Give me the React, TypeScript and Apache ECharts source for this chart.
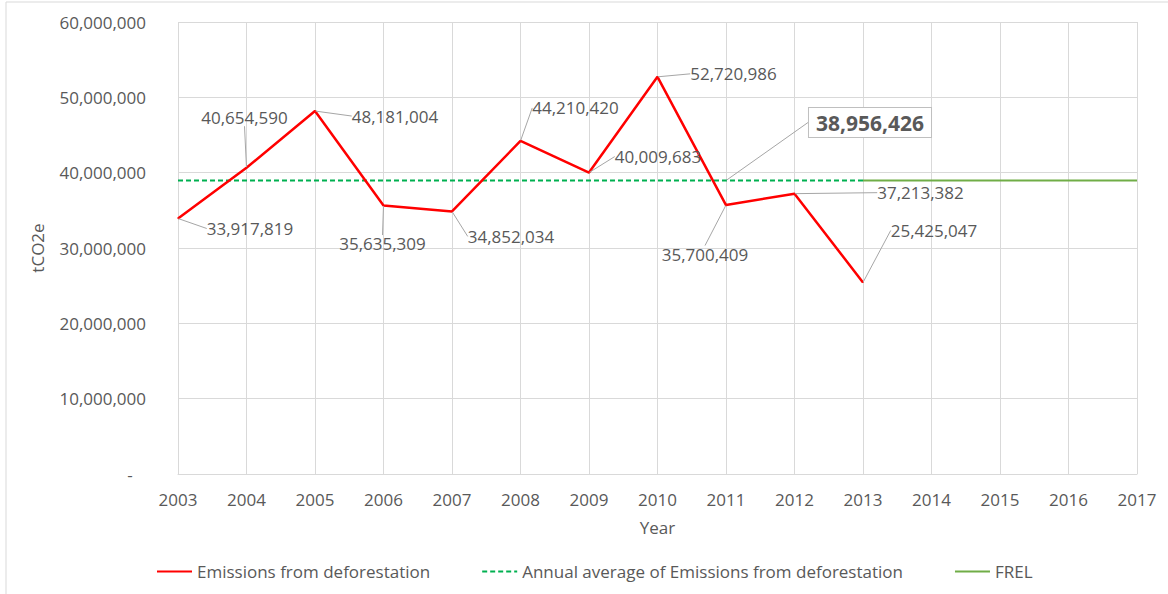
import React, { useEffect, useRef } from "react";
import * as echarts from "echarts";

const years = ["2003","2004","2005","2006","2007","2008","2009","2010","2011","2012","2013","2014","2015","2016","2017"];
const emissions = [33917819, 40654590, 48181004, 35635309, 34852034, 44210420, 40009683, 52720986, 35700409, 37213382, 25425047];
const averageValue = 38956426;
const averageYears = 11; // 2003..2013
const frelStartIndex = 10; // 2013
const emissionLabelOffsets: [number, number][] = [
  [72, 10], [-2, -50], [80, 5], [-1, 38], [59, 25], [55, -33], [69, -16], [76, -3], [-21, 49], [126, -1], [71, -52],
];
const averageLabelIndex = 8;
const averageLabelOffset: [number, number] = [144, -58];

const FONT = "'Open Sans', sans-serif";
const TXT = "#595959";

const fmt = (v: number) => v.toLocaleString("en-US");

export default function App() {
  const ref = useRef<HTMLDivElement>(null);
  useEffect(() => {
    if (!ref.current) return;
    const chart = echarts.init(ref.current, undefined, { renderer: "svg" });

    const redData = emissions.map((v) => ({ value: v, symbol: "circle", symbolSize: 1 }));
    const avgData = years.map((_, i) => {
      if (i >= averageYears) return null;
      if (i === averageLabelIndex)
        return {
          value: averageValue,
          symbol: "circle",
          symbolSize: 1,
          label: {
            show: true,
            formatter: () => fmt(averageValue),
            fontFamily: FONT,
            fontWeight: "bold",
            fontSize: 21,
            color: TXT,
            backgroundColor: "#ffffff",
            borderColor: "#bfbfbf",
            borderWidth: 1,
            padding: [5, 7, 3, 7],
          },
          labelLine: { show: true, lineStyle: { color: "#a6a6a6", width: 1 } },
        };
      return averageValue;
    });
    const frelData = years.map((_, i) => (i >= frelStartIndex ? averageValue : null));

    chart.setOption({
      animation: false,
      backgroundColor: "#ffffff",
      textStyle: { fontFamily: FONT },
      grid: { left: 178, right: 31, top: 22, bottom: 120 },
      graphic: [
        {
          type: "rect",
          shape: { x: 6, y: 2, width: 1400, height: 800 },
          style: { fill: "none", stroke: "#d9d9d9", lineWidth: 1 },
          silent: true,
        },
      ],
      legend: {
        left: 151,
        top: 558,
        itemWidth: 35,
        itemHeight: 14,
        itemGap: 51,
        itemStyle: { opacity: 0 },
        textStyle: { fontFamily: FONT, fontSize: 17, color: TXT },
        data: ["Emissions from deforestation", "Annual average of Emissions from deforestation", "FREL"],
      },
      xAxis: {
        type: "category",
        data: years,
        boundaryGap: false,
        name: "Year",
        nameLocation: "middle",
        nameGap: 45,
        nameTextStyle: { fontFamily: FONT, fontSize: 17, color: TXT },
        axisLine: { show: true, lineStyle: { color: "#d9d9d9", width: 1 } },
        axisTick: { show: false },
        axisLabel: { fontFamily: FONT, fontSize: 17, color: TXT, margin: 17 },
        splitLine: { show: true, lineStyle: { color: "#d9d9d9", width: 1 } },
      },
      yAxis: {
        type: "value",
        min: 0,
        max: 60000000,
        interval: 10000000,
        name: "tCO2e",
        nameLocation: "middle",
        nameGap: 132,
        nameRotate: 90,
        nameTextStyle: { fontFamily: FONT, fontSize: 17, color: TXT },
        axisLine: { show: false },
        axisTick: { show: false },
        axisLabel: {
          fontFamily: FONT,
          fontSize: 17,
          color: TXT,
          margin: 32,
          formatter: (v: number) => (v === 0 ? "-   " : fmt(v)),
        },
        splitLine: { show: true, lineStyle: { color: "#d9d9d9", width: 1 } },
      },
      series: [
        {
          name: "Annual average of Emissions from deforestation",
          type: "line",
          data: avgData,
          symbol: "none",
          lineStyle: { color: "#00b050", width: 2, type: [5, 3] },
          itemStyle: { color: "#00b050" },
          labelLayout: (p: any) => ({
            x: p.rect.x + p.rect.width / 2 + averageLabelOffset[0],
            y: p.rect.y + p.rect.height / 2 + averageLabelOffset[1],
            align: "center",
            verticalAlign: "middle",
          }),
          z: 2,
        },
        {
          name: "FREL",
          type: "line",
          data: frelData,
          symbol: "none",
          lineStyle: { color: "#70ad47", width: 2 },
          itemStyle: { color: "#70ad47" },
          z: 2,
        },
        {
          name: "Emissions from deforestation",
          type: "line",
          data: redData,
          symbol: "none",
          lineStyle: { color: "#ff0000", width: 2.5 },
          itemStyle: { color: "#ff0000" },
          label: {
            show: true,
            formatter: (p: any) => fmt(p.value),
            fontFamily: FONT,
            fontSize: 17,
            color: TXT,
          },
          labelLine: { show: true, lineStyle: { color: "#a6a6a6", width: 1 } },
          labelLayout: (p: any) => {
            const o = emissionLabelOffsets[p.dataIndex] || [0, 0];
            return {
              x: p.rect.x + p.rect.width / 2 + o[0],
              y: p.rect.y + p.rect.height / 2 + o[1],
              align: "center",
              verticalAlign: "middle",
            };
          },
          z: 3,
        },
      ],
    });
    return () => chart.dispose();
  }, []);
  return (
    <div
      ref={ref}
      style={{ position: "fixed", left: 0, top: 0, width: 1168, height: 594 }}
    />
  );
}
